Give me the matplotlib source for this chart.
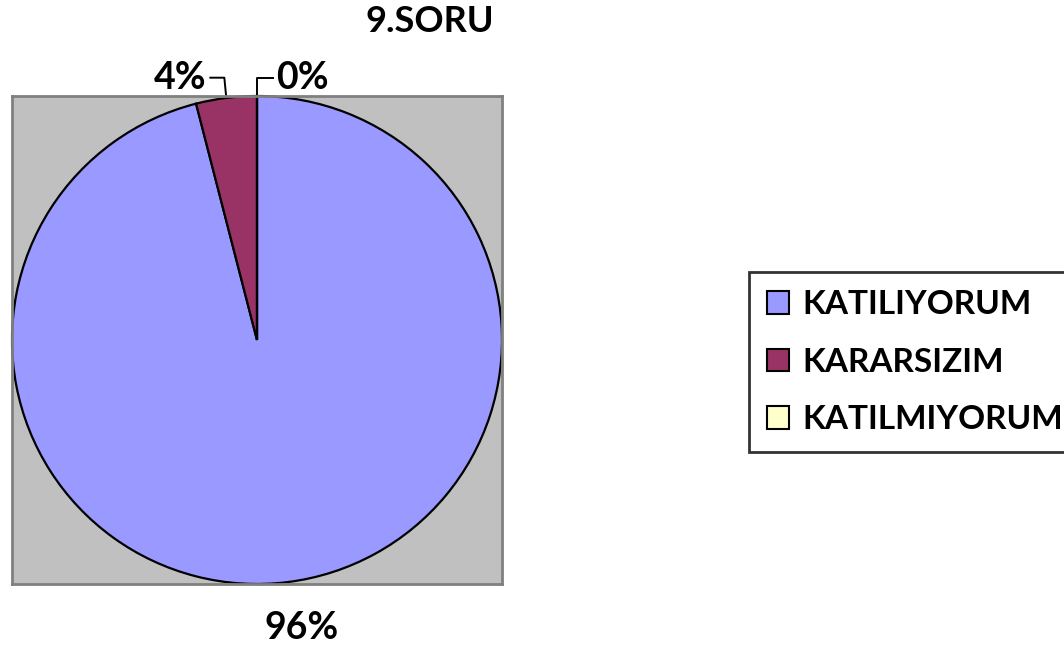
import numpy as np
import matplotlib

matplotlib.use("Agg")
import matplotlib.pyplot as plt
from matplotlib.patches import Patch

plt.rcParams["font.family"] = ["Lato", "DejaVu Sans"]
plt.rcParams["font.weight"] = "bold"

# data
categories = ["KATILIYORUM", "KARARSIZIM", "KATILMIYORUM"]
shares = [96, 4, 0]
colors = ["#9999FF", "#993366", "#FFFFCC"]
title = "9.SORU"

W, H = 1064, 649
fig = plt.figure(figsize=(W / 100, H / 100), dpi=100)

# gray plot area
ax = fig.add_axes([12 / W, (H - 584) / H, 490 / W, 488 / H])
ax.set_facecolor("#C0C0C0")
for sp in ax.spines.values():
    sp.set_color("#808080")
    sp.set_linewidth(2)

wedges, _ = ax.pie(
    shares,
    colors=colors,
    startangle=90,
    counterclock=False,
    frame=True,
    wedgeprops=dict(edgecolor="black", linewidth=1.6),
)
ax.set_xlim(-1.0, 1.0)
ax.set_ylim(-1.0, 1.0)
ax.set_aspect("auto")
ax.set_xticks([])
ax.set_yticks([])

# percentage labels from wedge angles
total = sum(shares)
lab_kw = dict(fontsize=27, fontweight="bold", clip_on=False)
angle = 90.0
for i, v in enumerate(shares):
    span = 360.0 * v / total
    mid = np.deg2rad(angle - span / 2)
    angle -= span
    pct = f"{round(100 * v / total)}%"
    ex, ey = np.cos(mid), np.sin(mid)
    if i == 0:
        # large slice: label below the plot area
        ax.text(ex * 1.45, -1.18, pct, ha="center", va="center", **lab_kw)
    elif i == 1:
        ax.plot([ex, ex - 0.008, ex - 0.065], [ey, 1.075, 1.075], color="black",
                lw=1.4, clip_on=False)
        ax.text(ex - 0.08, 1.075, pct, ha="right", va="center", **lab_kw)
    else:
        ax.plot([ex, ex, ex + 0.065], [ey, 1.075, 1.075], color="black",
                lw=1.4, clip_on=False)
        ax.text(ex + 0.08, 1.075, pct, ha="left", va="center", **lab_kw)

fig.text(430 / W, 1 - 22 / H, title, ha="center", va="center",
         fontsize=26, fontweight="bold")

handles = [Patch(facecolor=c, edgecolor="black", linewidth=1.5) for c in colors]
leg = fig.legend(
    handles, categories,
    loc="upper left",
    bbox_to_anchor=(749 / W, 1 - 272 / H),
    fontsize=24,
    frameon=True,
    fancybox=False,
    edgecolor="black",
    handlelength=0.66,
    handleheight=0.66,
    handletextpad=0.4,
    borderpad=0.55,
    labelspacing=0.85,
    borderaxespad=0,
)
leg.get_frame().set_linewidth(2)
for t in leg.get_texts():
    t.set_fontweight("bold")

fig.savefig("out.png", dpi=100)
